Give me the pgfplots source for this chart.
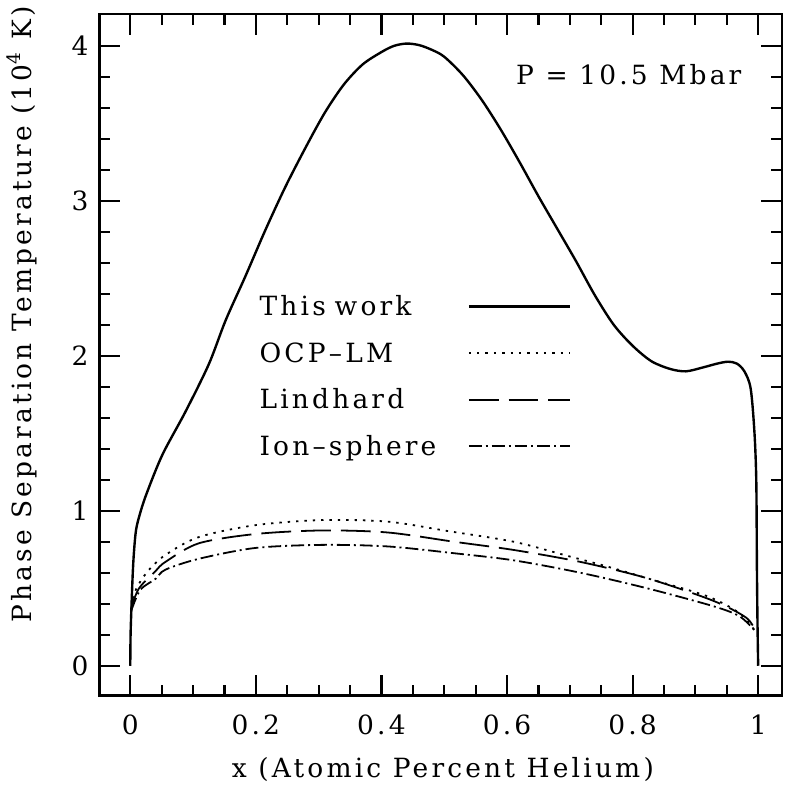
\documentclass[border=0pt]{standalone}
\usepackage{fontspec}
\setmainfont{DejaVu Serif}[LetterSpace=12]
\usepackage{pgfplots}
\pgfplotsset{compat=1.18}
\begin{document}
\begin{tikzpicture}[font=\fontsize{13.3}{16}\selectfont]
\begin{axis}[
  width=343pt, height=342.5pt, scale only axis,
  xmin=-0.049, xmax=1.038, ymin=-0.193, ymax=4.205,
  xtick={0,0.2,0.4,0.6,0.8,1}, xticklabels={0,0.2,0.4,0.6,0.8,1},
  ytick={0,1,2,3,4}, yticklabels={0,1,2,3,4},
  minor x tick num=3, minor y tick num=4,
  tick align=inside, major tick length=10.5pt, minor tick length=5.5pt,
  axis line style={line width=1.3pt},
  tick style={line width=1.1pt, black},
  xticklabel style={yshift=-6.3pt},
  yticklabel style={xshift=-2pt},
  xlabel={x (Atomic Percent Helium)},
  xlabel style={at={(rel axis cs:0.503,-0.1197)}, anchor=base},
  ylabel={Phase Separation Temperature (10\textsuperscript{4} K)},
  ylabel style={at={(rel axis cs:-0.1137,0.559)}, anchor=center},
  legend style={at={(axis cs:0.206,2.401)}, anchor=north west, draw=none, fill=none,
    inner sep=0pt, outer sep=0pt, row sep=10.4pt, column sep=0pt,
    nodes={inner sep=0pt, text height=11pt, text depth=2pt, text width=104.5pt, align=left}},
  legend cell align=left, legend plot pos=right,
  legend image code/.code={\draw[#1] (0pt,0pt) -- (51pt,0pt);},
]
\addplot[black, line width=1.2pt, smooth, tension=0.5] coordinates {
(0,0) (0.0005,0.2) (0.002,0.39) (0.004,0.6) (0.006,0.74) (0.009,0.87) (0.014,0.96)
(0.025,1.10) (0.051,1.36) (0.088,1.64) (0.125,1.945) (0.152,2.23) (0.183,2.51)
(0.215,2.81) (0.247,3.09) (0.28,3.35) (0.31,3.57) (0.34,3.75) (0.37,3.88)
(0.40,3.96) (0.42,4.0) (0.44,4.015) (0.46,4.005) (0.48,3.975) (0.50,3.93)
(0.53,3.81) (0.56,3.65) (0.59,3.46) (0.62,3.25) (0.65,3.03) (0.68,2.82)
(0.71,2.61) (0.74,2.39) (0.77,2.20) (0.80,2.065) (0.83,1.965) (0.86,1.915)
(0.885,1.90) (0.912,1.925) (0.935,1.95) (0.952,1.962) (0.966,1.95) (0.978,1.90)
(0.988,1.79) (0.994,1.51) (0.997,1.19) (0.998,0.63) (0.999,0.25) (1.0,0)
};
\addlegendentry{This work}
\addplot[black, line width=0.9pt, dash pattern=on 1.2pt off 3pt, smooth, tension=0.5] coordinates {
(0.002,0.38) (0.006,0.46) (0.014,0.53) (0.03,0.62) (0.056,0.715) (0.109,0.83)
(0.199,0.907) (0.305,0.94) (0.41,0.93) (0.506,0.869) (0.611,0.80) (0.70,0.705)
(0.76,0.64) (0.823,0.565) (0.918,0.45) (0.97,0.34) (0.994,0.23)
};
\addlegendentry{OCP--LM}
\addplot[black, line width=0.9pt, dash pattern=on 15pt off 5pt, smooth, tension=0.5] coordinates {
(0.002,0.38) (0.014,0.5) (0.04,0.61) (0.056,0.67) (0.109,0.79) (0.199,0.85)
(0.305,0.873) (0.41,0.86) (0.516,0.80) (0.611,0.747) (0.717,0.67) (0.823,0.565)
(0.928,0.42) (0.981,0.31) (0.996,0.22)
};
\addlegendentry{Lindhard}
\addplot[black, line width=0.9pt, dash pattern=on 6.5pt off 2pt on 1pt off 2pt, smooth, tension=0.5] coordinates {
(0.002,0.36) (0.016,0.49) (0.04,0.56) (0.056,0.62) (0.109,0.69) (0.199,0.76)
(0.305,0.78) (0.41,0.77) (0.516,0.726) (0.611,0.68) (0.717,0.60) (0.823,0.50)
(0.928,0.385) (0.97,0.32) (0.994,0.23)
};
\addlegendentry{Ion--sphere}
\node[anchor=base] at (axis cs:0.794,3.754) {P = 10.5 Mbar};
\end{axis}
\path (current axis.south west) ++(-50pt,-44.5pt);
\path (current axis.north east) ++(1pt,6.5pt);
\end{tikzpicture}
\end{document}
